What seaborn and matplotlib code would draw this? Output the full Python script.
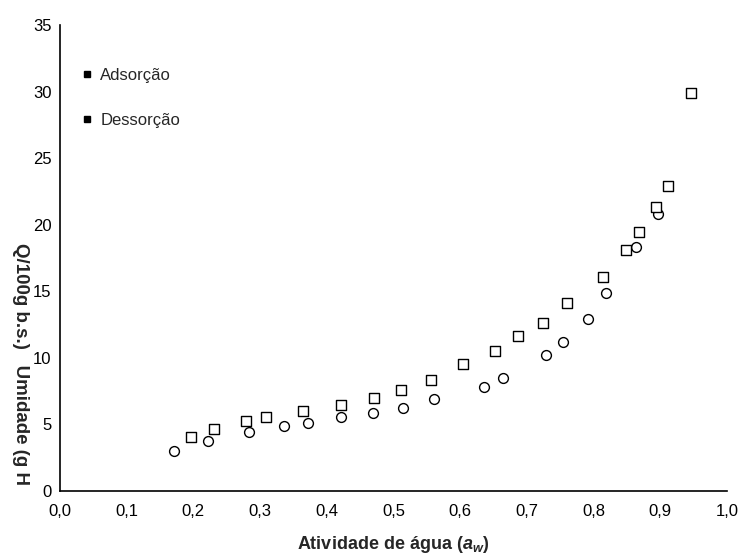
import numpy as np
import pandas as pd
import seaborn as sns
import matplotlib.pyplot as plt
from matplotlib.lines import Line2D
from matplotlib.ticker import FuncFormatter

# Dados
aw_ads = [0.171, 0.222, 0.283, 0.336, 0.372, 0.421, 0.469, 0.514, 0.561,
          0.636, 0.664, 0.729, 0.754, 0.792, 0.819, 0.864, 0.897]
umid_ads = [3.01, 3.76, 4.43, 4.88, 5.11, 5.56, 5.86, 6.24, 6.91,
            7.80, 8.45, 10.22, 11.19, 12.92, 14.88, 18.33, 20.81]

aw_des = [0.196, 0.231, 0.279, 0.309, 0.364, 0.421, 0.471, 0.511, 0.556, 0.604,
          0.652, 0.687, 0.724, 0.760, 0.814, 0.849, 0.868, 0.894, 0.912, 0.946]
umid_des = [4.06, 4.66, 5.26, 5.56, 6.01, 6.46, 6.99, 7.59, 8.34, 9.54,
            10.52, 11.65, 12.62, 14.12, 16.08, 18.11, 19.46, 21.34, 22.92, 29.90]

legenda = ["Adsorção", "Dessorção"]
xticks = np.round(np.arange(0, 1.01, 0.1), 1)
yticks = list(range(0, 36, 5))

sns.set_style("white")
plt.rcParams['font.family'] = ['Liberation Sans', 'DejaVu Sans']
plt.rcParams['mathtext.fontset'] = 'custom'
plt.rcParams['mathtext.it'] = 'Liberation Sans:italic:bold'
plt.rcParams['mathtext.rm'] = 'Liberation Sans:bold'

df_ads = pd.DataFrame({"aw": aw_ads, "umidade": umid_ads})
df_des = pd.DataFrame({"aw": aw_des, "umidade": umid_des})

fig, ax = plt.subplots(figsize=(7.39, 5.54), dpi=100)
fig.subplots_adjust(left=0.0812, right=0.9838, top=0.9549, bottom=0.1137)

sns.scatterplot(data=df_ads, x="aw", y="umidade", marker="o", s=50,
                facecolor="white", edgecolor="black", linewidth=1.0, ax=ax)
sns.scatterplot(data=df_des, x="aw", y="umidade", marker="s", s=50,
                facecolor="white", edgecolor="black", linewidth=1.0, ax=ax)

ax.set_xlim(0, 1.0)
ax.set_ylim(0, 35)
ax.set_xticks(xticks)
ax.set_yticks(yticks)
ax.xaxis.set_major_formatter(FuncFormatter(lambda v, p: f"{v:.1f}".replace(".", ",")))
ax.tick_params(direction="in", length=4, width=1, labelsize=12, colors="black")
ax.tick_params(axis="x", pad=9)
ax.tick_params(axis="y", pad=6)

sns.despine(ax=ax)
for s in ["left", "bottom"]:
    ax.spines[s].set_color("black")
    ax.spines[s].set_linewidth(1.2)

ax.set_xlabel(r"Atividade de água ($a_w$)", fontsize=13, fontweight="bold", labelpad=11)
ax.set_ylabel("")
fig.text(0.028, 0.343, "Q/100g b.s.)   Umidade (g H", rotation=270, fontsize=13.5,
         fontweight="bold", ha="center", va="center")

handles = [Line2D([], [], marker="s", color="black", linestyle="none", markersize=5)
           for _ in legenda]
ax.legend(handles, legenda, loc="upper left", bbox_to_anchor=(0.018, 0.925),
          frameon=False, fontsize=12, handlelength=0.8, handletextpad=0.4,
          labelspacing=1.8, borderpad=0)

plt.savefig("out.png", dpi=100)
